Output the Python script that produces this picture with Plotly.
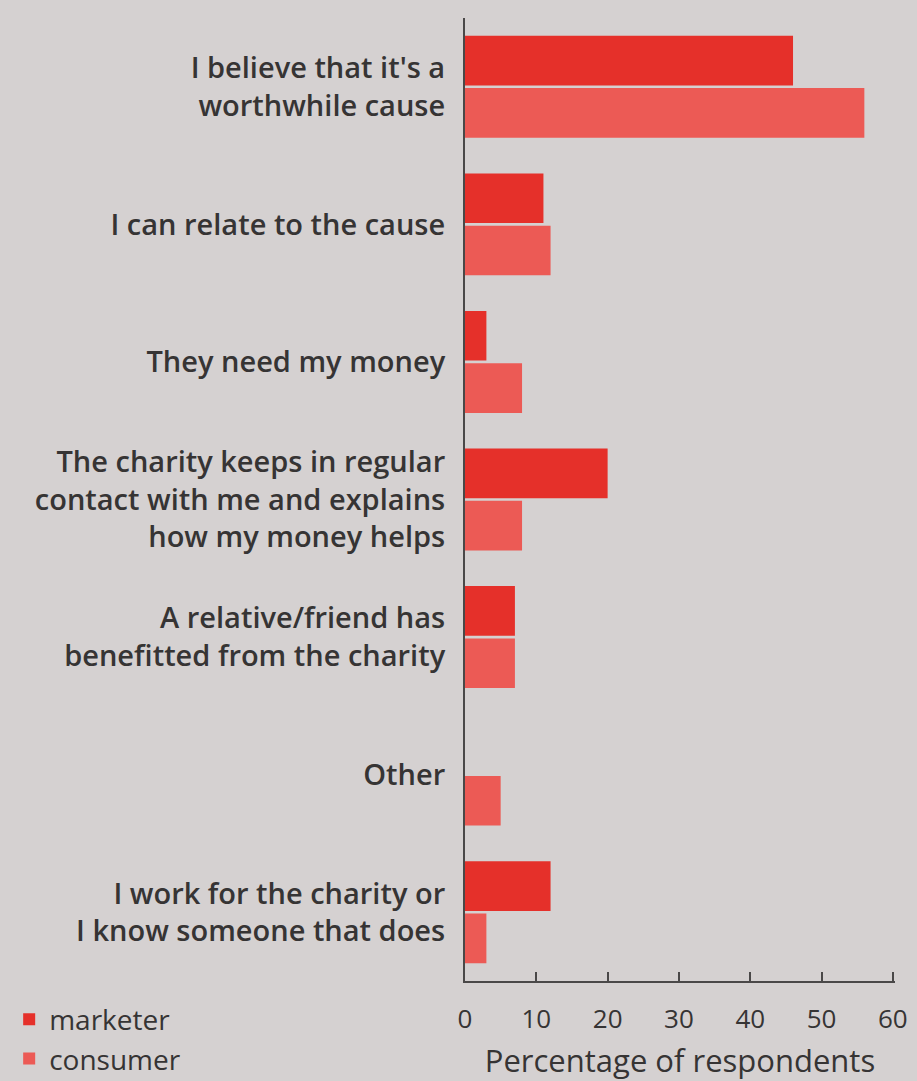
import plotly.graph_objects as go

categories = [
    "I believe that it's a<br>worthwhile cause",
    "I can relate to the cause",
    "They need my money",
    "The charity keeps in regular<br>contact with me and explains<br>how my money helps",
    "A relative/friend has<br>benefitted from the charity",
    "Other",
    "I work for the charity or<br>I know someone that does",
]
marketer = [46, 11, 3, 20, 7, 0, 12]
consumer = [56, 12, 8, 8, 7, 5, 3]
x_ticks = [0, 10, 20, 30, 40, 50, 60]

FONT = "Open Sans"
TEXT = "#363434"
BG = "#d5d1d1"

fig = go.Figure()
fig.add_trace(go.Bar(y=categories, x=marketer, orientation="h", name="marketer",
                     marker=dict(color="#e5302a", line=dict(width=0)), legendgroup="m"))
fig.add_trace(go.Bar(y=categories, x=consumer, orientation="h", name="consumer",
                     marker=dict(color="#ec5a55", line=dict(width=0)), legendgroup="c"))

fig.update_layout(
    width=917, height=1081,
    paper_bgcolor=BG, plot_bgcolor=BG,
    margin=dict(l=465, r=22, t=18, b=100, autoexpand=False),
    barmode="group", bargap=0.24, bargroupgap=0.05,
    font=dict(family=FONT, color=TEXT, size=24, weight=600),
    showlegend=True,
    legend=dict(xref="container", yref="container", x=0.01, y=0.08,
                xanchor="left", yanchor="top", traceorder="grouped",
                tracegroupgap=0, bgcolor="rgba(0,0,0,0)",
                font=dict(family=FONT, size=28, color=TEXT, weight=500)),
)
fig.update_yaxes(
    categoryorder="array", categoryarray=categories, autorange="reversed",
    showline=True, linecolor="#4a4848", linewidth=2, showgrid=False,
    ticks="", ticklabelstandoff=12, automargin=False,
    tickfont=dict(family=FONT, size=29, color=TEXT, weight=600),
    zeroline=False,
)
fig.update_xaxes(
    range=[0, 60.3], tickvals=x_ticks, ticktext=[str(v) for v in x_ticks],
    showline=True, linecolor="#4a4848", linewidth=2, showgrid=False, zeroline=False,
    ticks="inside", ticklen=9, tickwidth=2, tickcolor="#4a4848", automargin=False,
    ticklabelstandoff=14, tickfont=dict(family=FONT, size=26, color=TEXT, weight=500),
    title=dict(text="Percentage of respondents", standoff=17,
               font=dict(family=FONT, size=31, color=TEXT, weight=500)),
)

fig.write_html("out.html")
